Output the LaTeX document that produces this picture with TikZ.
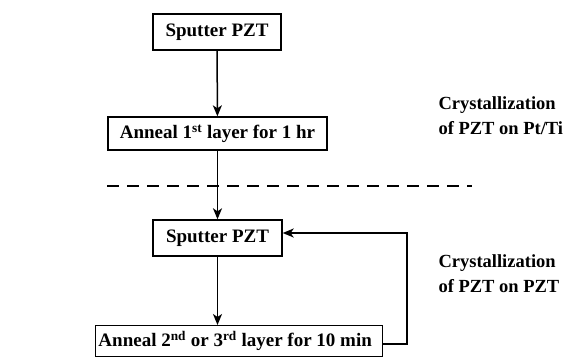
\documentclass[tikz,border=0pt]{standalone}
\usepackage{fontspec}
\setmainfont{Liberation Serif}[BoldFont={Liberation Serif Bold}]
\usetikzlibrary{arrows.meta}
\begin{document}
\begin{tikzpicture}[x=1pt,y=-1pt,
  stepbox/.style={draw, line width=1.4pt, inner sep=0pt, font=\fontsize{19}{21}\selectfont\bfseries},
  lbl/.style={font=\fontsize{18.5}{25}\selectfont\bfseries, align=left, anchor=west},
  conn/.style={line width=1.5pt, -{Stealth[length=11pt,width=9pt,inset=3pt]}}]
\useasboundingbox (0,0) rectangle (571,357);
\node[stepbox, minimum width=128pt, minimum height=36pt] (s1) at (217,32) {Sputter PZT};
\node[stepbox, minimum width=219pt, minimum height=33pt] (a1) at (217.5,133.5) {Anneal 1\textsuperscript{st} layer for 1 hr};
\node[stepbox, minimum width=129pt, minimum height=36pt] (s2) at (217.5,238) {Sputter PZT};
\node[stepbox, minimum width=287pt, minimum height=31pt, anchor=north west] (a2) at (95,325) {\hspace*{-8pt}Anneal 2\textsuperscript{nd} or 3\textsuperscript{rd} layer for 10 min};
\coordinate (d1) at (107,186);
\coordinate (d2) at (472,186);
\draw[line width=2.4pt, dash pattern=on 12pt off 8pt] (d1) -- (d2);
\draw[conn] (s1) -- (a1);
\draw[conn] (a1) -- (s2);
\draw[conn] (s2) -- (s2 |- a2.north);
\coordinate (r1) at (407,344);
\coordinate (r2) at (407,233);
\draw[conn] (a2.east |- r1) -- (r1) -- (r2) -- (s2.east |- r2);
\node[lbl] (t1) at (435,116) {Crystallization\\of PZT on Pt/Ti};
\node[lbl] (t2) at (435,274) {Crystallization\\of PZT on PZT};
\end{tikzpicture}
\end{document}
